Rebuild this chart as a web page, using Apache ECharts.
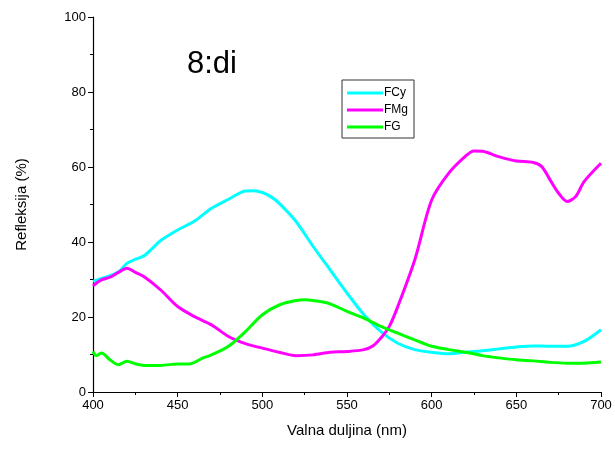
<!DOCTYPE html>
<html><head><meta charset="utf-8">
<script src="https://cdn.jsdelivr.net/npm/echarts@6/dist/echarts.min.js"></script>
<style>html,body{margin:0;padding:0;background:#fff}#c{width:615px;height:455px}</style>
</head><body><div id="c"></div>
<script>
const xTicks = [400, 450, 500, 550, 600, 650, 700];
const yTicks = [0, 20, 40, 60, 80, 100];
const titleText = "8:di";
const seriesNames = ["FCy", "FMg", "FG"];

const fcyWl = [400,405,410,415,420,425,430,435,440,450,460,470,480,490,495,500,505,510,520,530,540,550,560,570,580,590,600,610,620,630,640,650,660,670,680,690,700];
const fcyVal = [29.5,30.3,31.0,32.0,34.3,35.4,36.3,38.3,40.4,43.2,45.6,49.0,51.4,53.6,53.7,53.2,52.1,50.3,45.4,38.8,32.6,26.4,20.6,16.1,13.0,11.3,10.6,10.2,10.6,11.0,11.5,12.0,12.3,12.2,12.2,13.5,16.6];

const fmgWl = [400,405,410,415,420,425,430,440,450,460,470,480,490,500,510,520,530,540,550,560,565,570,575,580,590,600,610,620,625,630,640,650,660,665,670,675,680,685,690,700];
const fmgVal = [28.3,29.9,30.6,31.9,33.0,31.9,30.8,27.2,22.8,20.1,17.9,14.8,12.9,11.7,10.6,9.7,9.9,10.6,10.8,11.3,12.2,14.4,17.5,22.8,35.2,51.2,58.3,62.9,64.3,64.2,62.7,61.6,61.2,60.1,56.5,53.0,50.8,52.1,56.1,61.0];

const fgWl = [400,402,405,410,415,420,425,430,440,450,457,465,470,480,490,500,510,520,525,530,540,550,560,570,580,590,600,610,620,630,640,650,660,670,680,690,700];
const fgVal = [10.8,9.7,10.4,8.6,7.3,8.2,7.5,7.1,7.1,7.5,7.5,9.1,9.9,12.2,16.1,20.6,23.2,24.4,24.6,24.4,23.5,21.5,19.7,17.5,15.7,13.9,12.2,11.3,10.6,9.7,9.1,8.6,8.3,7.9,7.7,7.7,8.0];

const colors = ["#00ffff", "#ff00ff", "#00ff00"];
const pairs = (w, v) => w.map((x, i) => [x, v[i]]);
const allData = [pairs(fcyWl, fcyVal), pairs(fmgWl, fmgVal), pairs(fgWl, fgVal)];

const font = "Liberation Sans, Arial, sans-serif";
const chart = echarts.init(document.getElementById('c'));
chart.setOption({
  animation: false,
  title: { text: titleText, left: 182, top: 44, textStyle: { fontFamily: font, fontSize: 31, fontWeight: 'normal', color: '#000' } },
  legend: {
    orient: 'vertical', left: 342, top: 80, data: seriesNames,
    borderColor: '#333', borderWidth: 1, padding: [7, 6, 5, 5], itemGap: 5,
    itemWidth: 36, itemHeight: 3, icon: 'rect',
    textStyle: { fontFamily: font, fontSize: 12, color: '#000', padding: [0, 0, 0, -4] }
  },
  grid: { left: 93, right: 14, top: 17, bottom: 63 },
  xAxis: {
    type: 'value', min: 400, max: 700, interval: 50,
    name: 'Valna duljina (nm)', nameLocation: 'middle', nameGap: 31,
    nameTextStyle: { fontFamily: font, fontSize: 15, color: '#000' },
    axisLine: { lineStyle: { color: '#000', width: 1.2 } },
    axisTick: { length: 5, lineStyle: { color: '#000' } },
    minorTick: { show: true, splitNumber: 2, length: 3, lineStyle: { color: '#000' } },
    splitLine: { show: false },
    axisLabel: { fontFamily: font, fontSize: 13, color: '#000', margin: 7, formatter: v => xTicks.includes(v) ? String(v) : '' }
  },
  yAxis: {
    type: 'value', min: 0, max: 100, interval: 20,
    name: 'Refleksija (%)', nameLocation: 'middle', nameGap: 64, nameRotate: 90,
    nameTextStyle: { fontFamily: font, fontSize: 15, color: '#000' },
    axisLine: { show: true, lineStyle: { color: '#000', width: 1.2 } },
    axisTick: { show: true, length: 5, lineStyle: { color: '#000' } },
    minorTick: { show: true, splitNumber: 2, length: 3, lineStyle: { color: '#000' } },
    splitLine: { show: false },
    axisLabel: { fontFamily: font, fontSize: 13, color: '#000', margin: 7, formatter: v => yTicks.includes(v) ? String(v) : '' }
  },
  series: seriesNames.map((n, i) => ({
    name: n, type: 'line', data: allData[i], smooth: 0.3, showSymbol: false, symbol: 'none',
    lineStyle: { color: colors[i], width: 3 }, itemStyle: { color: colors[i] }
  }))
});
</script></body></html>
